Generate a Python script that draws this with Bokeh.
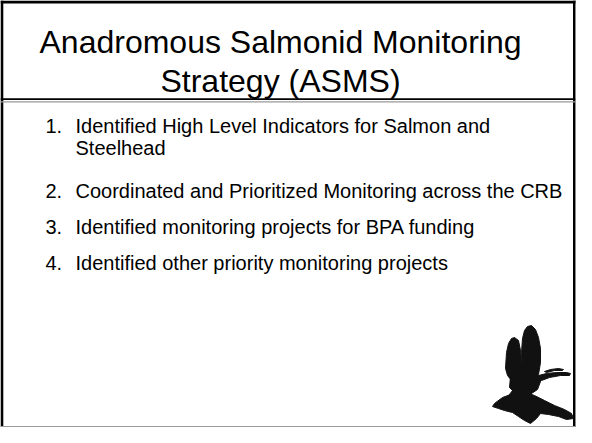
from bokeh.plotting import figure
from bokeh.models import Range1d
from bokeh.core.properties import value
from bokeh.embed import file_html
from bokeh.resources import INLINE

# ---- content ----
title_lines = ["Anadromous Salmonid Monitoring", "Strategy (ASMS)"]
item_numbers = ["1.", "2.", "3.", "4."]
item_texts = [
    ["Identified High Level Indicators for Salmon and", "Steelhead"],
    ["Coordinated and Prioritized Monitoring across the CRB"],
    ["Identified monitoring projects for BPA funding"],
    ["Identified other priority monitoring projects"],
]

# logo silhouette (heron in flight over reeds), slide pixel coordinates
logo_xs = [
    [517, 518, 520, 523, 526, 530, 532, 533, 535, 536, 530, 523, 519],
    [533, 534, 536, 539, 543, 547, 550, 552, 552, 550, 546, 538, 534],
    [522, 534, 546, 552, 549, 540, 528, 521],
    [544, 550, 558, 568, 578, 582, 581, 572, 561, 553, 548],
    [556, 562, 570, 575, 574, 566, 558],
    [506, 514, 522, 530, 538, 546, 556, 566, 576, 583, 585, 578, 570, 560, 552, 548, 542, 536, 530, 524, 516, 510, 504],
    [528, 531, 527, 520, 513, 518, 524],
]
logo_ys = [
    [378, 362, 353, 348, 347, 350, 360, 372, 384, 392, 394, 390, 385],
    [362, 348, 340, 336, 335, 339, 347, 358, 372, 384, 394, 397, 388],
    [386, 383, 385, 391, 399, 405, 404, 397],
    [389, 385, 383, 382, 382, 383, 385, 385, 387, 390, 393],
    [381, 379, 378, 379, 380, 380, 382],
    [413, 407, 404, 401, 402, 405, 410, 415, 419, 423, 428, 429, 426, 424, 423, 428, 433, 430, 426, 422, 420, 418, 416],
    [398, 404, 411, 416, 414, 408, 400],
]

# data coordinates = slide pixels, 1:1
FW, FH = 576, 427
p = figure(width=FW, height=FH, output_backend="svg", toolbar_location=None,
           x_range=Range1d(0, FW), y_range=Range1d(FH, 0), min_border=0)
p.axis.visible = False
p.grid.visible = False
p.outline_line_color = None
p.background_fill_color = "white"
p.border_fill_color = "white"

L, R, T, B = 0, FW, 0, FH
# frame: black left/top/right, gray bottom, double rule under title
p.quad(left=[L, L, R - 3.5, L], right=[R, L + 2.8, R - 1, R - 1],
       top=[T, T, T, 97.7], bottom=[T + 3, B, B, 99.5],
       fill_color="black", line_color=None)
p.quad(left=[R - 1, L, L], right=[R, R - 1, R - 1], top=[T, B - 1.5, 100.8], bottom=[B, B, 102],
       fill_color="#9a9a9a", line_color=None)

font = value("Liberation Sans")
TSHIFT = -9   # renderer places alphabetic baseline lower than requested
ISHIFT = -7.5

# title
p.text(x=[280] * len(title_lines), y=[50 + TSHIFT, 89.5 + TSHIFT], text=title_lines, text_font=font,
       text_font_size="32px", text_align="center", text_baseline="alphabetic",
       text_color="black")

# items
base_y = [[132.5, 155], [197.5], [234], [269.5]]
nx, ny, tx, tyy, tt = [], [], [], [], []
for num, lines, ys in zip(item_numbers, item_texts, base_y):
    nx.append(45); ny.append(ys[0] + ISHIFT)
    for line, y in zip(lines, ys):
        tx.append(75); tyy.append(y + ISHIFT); tt.append(line)
p.text(x=nx, y=ny, text=item_numbers, text_font=font, text_font_size="20px",
       text_baseline="alphabetic", text_color="black")
p.text(x=tx, y=tyy, text=tt, text_font=font, text_font_size="20px",
       text_baseline="alphabetic", text_color="black")

# logo, nudged to stay inside the frame
DX, DY = -12, -10
p.patches(xs=[[x + DX for x in xs] for xs in logo_xs],
          ys=[[y + DY for y in ys] for ys in logo_ys],
          fill_color="#111111", line_color="#111111", line_width=1)

open("out.html", "w").write(file_html(p, INLINE))
